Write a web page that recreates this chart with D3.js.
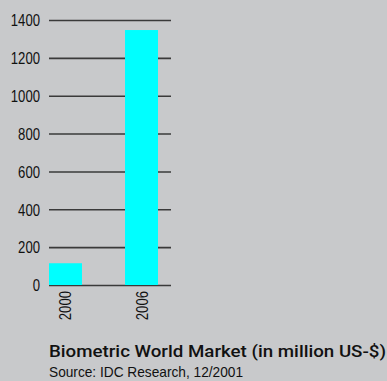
<!DOCTYPE html>
<html>
<head>
<meta charset="utf-8">
<script src="https://cdn.jsdelivr.net/npm/d3@7"></script>
<style>
  html, body { margin: 0; padding: 0; background: #c8c9cb; }
  svg { display: block; }
</style>
</head>
<body>
<div id="chart"></div>
<script>
// Biometric world market, million US-$
const years = ["2000", "2006"];
const values = [115, 1347];
const yTicks = [0, 200, 400, 600, 800, 1000, 1200, 1400];
const title = "Biometric World Market (in million US-$)";
const source = "Source: IDC Research, 12/2001";

const W = 387, H = 381;
const plot = { left: 49, right: 171, top: 20, bottom: 285 };
const FONT = "Liberation Sans, Arial, sans-serif";
const SQUEEZE = 0.82; // horizontal condensing of the label face

const svg = d3.select("#chart").append("svg")
  .attr("width", W).attr("height", H);

svg.append("rect").attr("width", W).attr("height", H).attr("fill", "#c8c9cb");

const y = d3.scaleLinear().domain([0, 1400]).range([plot.bottom, plot.top]);
const x = d3.scaleBand().domain(years)
  .range([plot.left, 158]).paddingInner(0.566).paddingOuter(0);

// gridlines and value labels
const yAxis = d3.axisLeft(y).tickValues(yTicks).tickSize(0).tickPadding(0).tickFormat(d3.format("d"));
const gy = svg.append("g").attr("transform", `translate(${plot.left},0)`).call(yAxis);
gy.select(".domain").remove();
gy.selectAll(".tick line").attr("x1", 0).attr("x2", plot.right - plot.left)
  .attr("stroke", "#3a3a3a").attr("stroke-width", 1.6);
gy.selectAll(".tick text")
  .attr("font-family", FONT)
  .attr("font-size", 16).attr("fill", "#111")
  .attr("text-anchor", "end")
  .attr("x", -9 / SQUEEZE).attr("dy", "0.36em")
  .attr("transform", `scale(${SQUEEZE},1)`);

// bars
svg.append("g").selectAll("rect").data(years).join("rect")
  .attr("x", d => x(d))
  .attr("width", x.bandwidth())
  .attr("y", (d, i) => y(values[i]))
  .attr("height", (d, i) => y(0) - y(values[i]))
  .attr("fill", "#00ffff");

// category labels, rotated
svg.append("g").selectAll("text").data(years).join("text")
  .attr("transform", d => `translate(${x(d) + x.bandwidth() / 2 + 6},${plot.bottom + 6}) rotate(-90) scale(${SQUEEZE},1)`)
  .attr("text-anchor", "end")
  .attr("font-family", FONT)
  .attr("font-size", 16).attr("fill", "#111")
  .text(d => d);

// title and source
svg.append("text")
  .attr("x", 49).attr("y", 357)
  .attr("font-family", "Roboto, Liberation Sans, Arial, sans-serif")
  .attr("font-size", 16).attr("font-weight", 500).attr("fill", "#111")
  .attr("textLength", 337).attr("lengthAdjust", "spacingAndGlyphs")
  .text(title);

svg.append("text")
  .attr("x", 49).attr("y", 377)
  .attr("font-family", FONT)
  .attr("font-size", 14.5).attr("fill", "#111")
  .attr("textLength", 194).attr("lengthAdjust", "spacingAndGlyphs")
  .text(source);
</script>
</body>
</html>
